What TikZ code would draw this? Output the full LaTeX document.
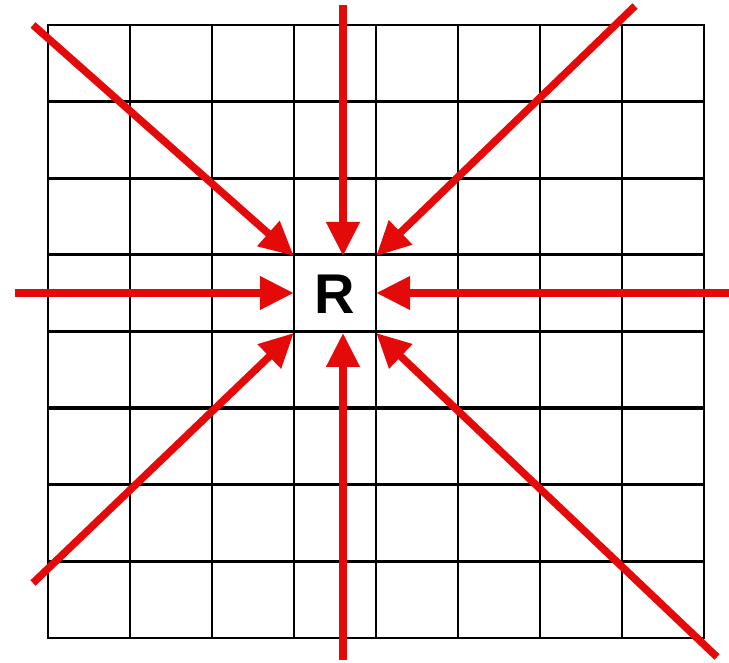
\documentclass[tikz,border=0pt]{standalone}
\usepackage{fontspec}
\setmainfont{Liberation Sans}
\usepackage{xcolor}
\usetikzlibrary{arrows.meta}
\definecolor{arrowred}{RGB}{228,10,10}

\begin{document}
\begin{tikzpicture}[
    x=1pt, y=-1pt,
    frame/.style={line width=1.8pt, black},
    vline/.style={line width=2.4pt, black},
    hline/.style={line width=3.3pt, black},
    arr/.style={-{Triangle[length=34pt, width=32pt]}, line width=7.5pt, arrowred},
    cell/.style={minimum width=82pt, minimum height=76.6pt, inner sep=0pt,
                 font=\fontsize{56}{66}\selectfont\bfseries}
]
    \useasboundingbox (0,0) rectangle (729,663);

    % grid
    \foreach \i in {1,...,7}
        \draw[vline] (48+82*\i,25) -- (48+82*\i,638);
    \foreach \j in {1,...,7}
        \draw[hline] (48,25+76.6*\j) -- (704,25+76.6*\j);
    \draw[frame] (48,25) rectangle (704,638);

    \node[cell] (r) at (335,294.5) {R};

    % outer ends of the arrows
    \coordinate (lft) at (15,293);
    \coordinate (rgt) at (729,293);
    \coordinate (top) at (343,5);
    \coordinate (bot) at (343,660);
    \coordinate (tl) at (33,25);
    \coordinate (tr) at (635,6);
    \coordinate (bl) at (33,583);
    \coordinate (br) at (717,657);

    \draw[arr] (lft) -- (lft -| r.west);
    \draw[arr] (rgt) -- (rgt -| r.east);
    \draw[arr] (top) -- (top |- r.north);
    \draw[arr] (bot) -- (bot |- r.south);
    \draw[arr] (tl) -- (r.north west);
    \draw[arr] (tr) -- (r.north east);
    \draw[arr] (bl) -- (r.south west);
    \draw[arr] (br) -- (r.south east);
\end{tikzpicture}
\end{document}
